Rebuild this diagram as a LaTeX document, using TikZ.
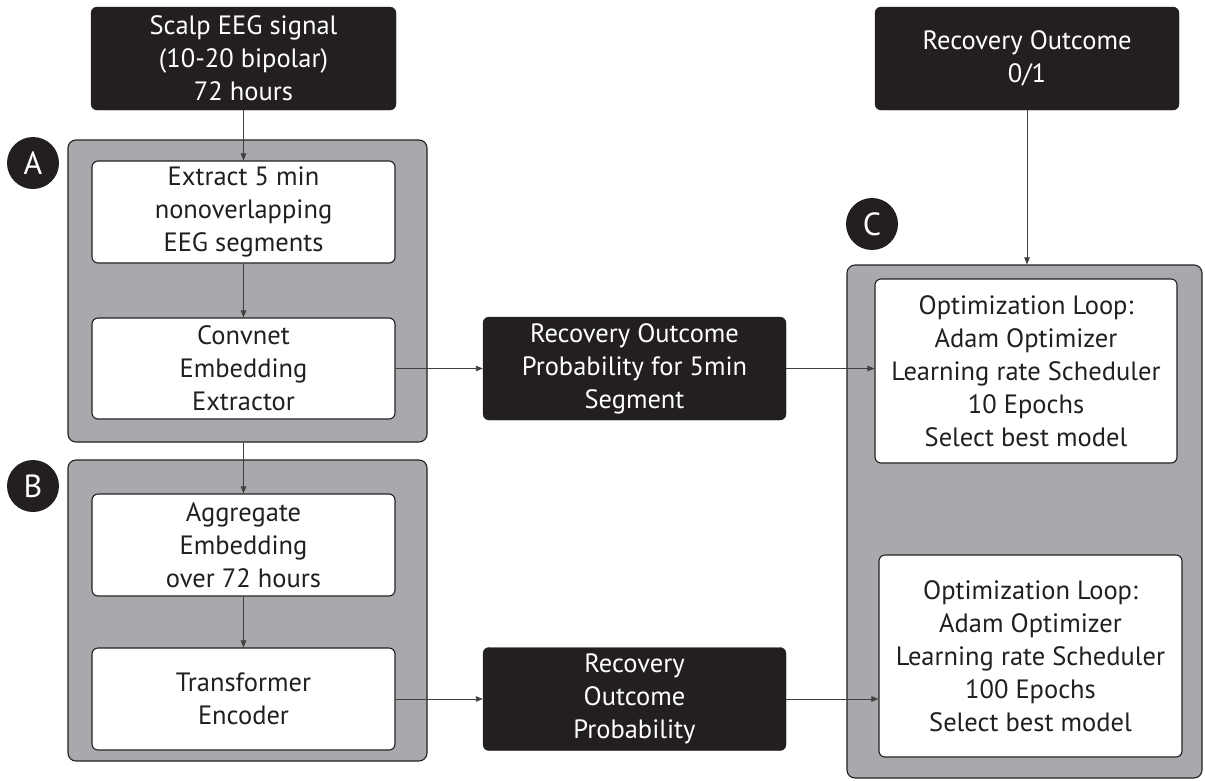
\documentclass[tikz,border=0pt]{standalone}
\usepackage{fontspec}
\setmainfont{PT Sans}
\usetikzlibrary{arrows.meta}
\definecolor{ink}{HTML}{231F20}
\definecolor{panelgray}{HTML}{A7A9AC}
\definecolor{linegray}{HTML}{404040}
\begin{document}
\begin{tikzpicture}[x=1pt,y=-1pt,
  txt/.style={font=\fontsize{26.5}{33}\selectfont, align=center, inner sep=0pt},
  blackbox/.style={txt, rectangle, rounded corners=6pt, fill=ink, draw=ink, text=white},
  whitebox/.style={txt, rectangle, rounded corners=6pt, fill=white, draw=ink, line width=1.1pt, text=ink},
  panel/.style={rectangle, rounded corners=8pt, fill=panelgray, draw=ink, line width=1.1pt, inner sep=0pt},
  badge/.style={circle, fill=ink, text=white, minimum size=52pt, inner sep=0pt, font=\fontsize{32}{32}\selectfont},
  conn/.style={draw=linegray, line width=0.9pt, -{Triangle[length=7pt,width=5.5pt]}}
]
\useasboundingbox (0,0) rectangle (1205,780);

% panels
\node[panel, minimum width=359pt, minimum height=302pt] (panA) at (247.5,291) {};
\node[panel, minimum width=359pt, minimum height=301pt] (panB) at (247.5,610.5) {};
\node[panel, minimum width=355pt, minimum height=513pt] (panC) at (1024.5,521.5) {};

% badges
\node[badge] (bA) at (33,163) {A};
\node[badge] (bB) at (33,486) {B};
\node[badge] (bC) at (872,224) {C};

% black boxes
\node[blackbox, minimum width=305pt, minimum height=103pt] (src) at (243.5,58.5) {Scalp EEG signal\\(10-20 bipolar)\\72 hours};
\node[blackbox, minimum width=304pt, minimum height=103pt] (out) at (1027,58.5) {Recovery Outcome\\0/1};
\node[blackbox, minimum width=303pt, minimum height=103pt] (p5) at (634.5,368.5) {Recovery Outcome\\Probability for 5min\\Segment};
\node[blackbox, minimum width=303pt, minimum height=103pt] (p72) at (634.5,699) {Recovery\\Outcome\\Probability};

% white boxes
\node[whitebox, minimum width=303pt, minimum height=102pt] (ext) at (243.5,212) {Extract 5 min\\nonoverlapping\\EEG segments};
\node[whitebox, minimum width=303pt, minimum height=101pt] (conv) at (243.5,368.5) {Convnet\\Embedding\\Extractor};
\node[whitebox, minimum width=303pt, minimum height=102pt] (agg) at (243.5,545) {Aggregate\\Embedding\\over 72 hours};
\node[whitebox, minimum width=303pt, minimum height=102pt] (trans) at (243.5,699) {Transformer\\Encoder};
\node[whitebox, minimum width=302pt, minimum height=184pt] (opt1) at (1026,371) {Optimization Loop:\\Adam Optimizer\\Learning rate Scheduler\\10 Epochs\\Select best model};
\node[whitebox, minimum width=303pt, minimum height=202pt] (opt2) at (1030.5,656) {Optimization Loop:\\Adam Optimizer\\Learning rate Scheduler\\100 Epochs\\Select best model};

% connectors
\draw[conn] (src.south) -- (ext.north);
\draw[conn] (ext.south) -- (conv.north);
\draw[conn] (agg.north |- panA.south) -- (agg.north);
\draw[conn] (agg.south) -- (trans.north);
\draw[conn] (conv.east) -- (p5.west);
\draw[conn] (trans.east) -- (p72.west);
\draw[conn] (p5.east) -- (p5.east -| opt1.west);
\draw[conn] (p72.east) -- (p72.east -| opt2.west);
\draw[conn] (out.south) -- (out.south |- panC.north);
\end{tikzpicture}
\end{document}
